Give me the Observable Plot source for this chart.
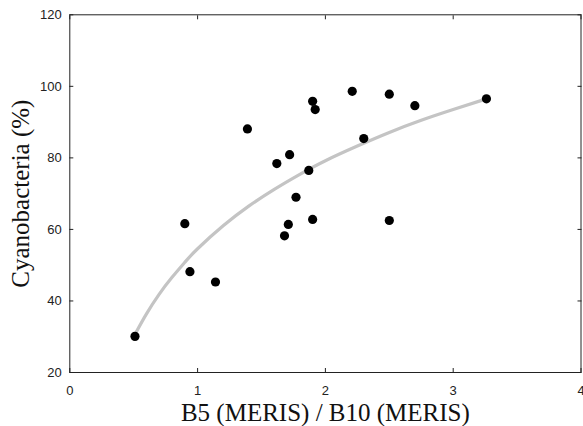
<!DOCTYPE html>
<html>
<head>
<meta charset="utf-8">
<script src="https://cdn.jsdelivr.net/npm/d3@7"></script>
<script src="https://cdn.jsdelivr.net/npm/@observablehq/plot@0.6"></script>
<style>
  html, body { margin: 0; padding: 0; background: white; }
</style>
</head>
<body>
<div id="chart"></div>
<script>
// Observed points: B5/B10 ratio vs cyanobacteria (%)
const ratio = [1.39, 1.90, 1.92, 2.21, 2.50, 2.70, 2.30, 1.72, 1.62, 1.87, 1.77, 0.90, 1.71, 1.90, 2.50, 1.68, 0.94, 1.14, 0.51, 3.26];
const cyano = [88.1, 95.8, 93.5, 98.6, 97.8, 94.6, 85.4, 80.9, 78.4, 76.5, 69.0, 61.6, 61.4, 62.8, 62.5, 58.2, 48.2, 45.3, 30.1, 96.5];

// Trend curve
const curveX = [0.52, 0.6, 0.7, 0.8, 0.9, 1.0, 1.2, 1.4, 1.6, 1.8, 2.0, 2.25, 2.5, 2.75, 3.0, 3.26];
const curveY = [31.3, 36.4, 41.9, 46.6, 50.8, 54.6, 61.0, 66.5, 71.2, 75.4, 79.2, 83.3, 87.1, 90.5, 93.5, 96.5];

const xTicks = [0, 1, 2, 3, 4];
const yTicks = [20, 40, 60, 80, 100, 120];

const xTitle = "B5 (MERIS) / B10 (MERIS)";
const yTitle = "Cyanobacteria (%)";

const points = ratio.map((r, i) => ({x: r, y: cyano[i]}));
const curve = curveX.map((c, i) => ({x: c, y: curveY[i]}));

const serif = "'Liberation Serif', 'Times New Roman', serif";

const chart = Plot.plot({
  width: 583,
  height: 426,
  marginLeft: 69.3,
  marginRight: 2.5,
  marginTop: 14.3,
  marginBottom: 54,
  style: {fontFamily: "'Liberation Sans', Arial, sans-serif", fontSize: "13px", background: "white", color: "#222"},
  x: {domain: [0, 4]},
  y: {domain: [20, 120]},
  marks: [
    Plot.frame({stroke: "#222", strokeWidth: 1}),
    Plot.axisX(xTicks, {anchor: "bottom", tickSize: -4, tickPadding: 17, tickFormat: d => String(d), label: null, fontSize: 13, fill: "#222", stroke: "#222"}),
    Plot.axisX(xTicks, {anchor: "top", tickSize: -4, tickFormat: () => "", label: null, stroke: "#222"}),
    Plot.axisY(yTicks, {anchor: "left", tickSize: -4, tickPadding: 12, tickFormat: d => String(d), label: null, fontSize: 13, fill: "#222", stroke: "#222"}),
    Plot.axisY(yTicks, {anchor: "right", tickSize: -4, tickFormat: () => "", label: null, stroke: "#222"}),
    Plot.line(curve, {x: "x", y: "y", stroke: "#c4c4c4", strokeWidth: 3.2, curve: "natural"}),
    Plot.dot(points, {x: "x", y: "y", r: 4.6, fill: "black", stroke: "none"}),
    Plot.text([xTitle], {frameAnchor: "bottom", dy: 40, lineAnchor: "middle", textAnchor: "middle", fontFamily: serif, fontSize: 25, fill: "#111"}),
    Plot.text([yTitle], {frameAnchor: "left", dx: -49, rotate: -90, lineAnchor: "middle", textAnchor: "middle", fontFamily: serif, fontSize: 25, fill: "#111"})
  ]
});
document.getElementById("chart").appendChild(chart);
</script>
</body>
</html>
